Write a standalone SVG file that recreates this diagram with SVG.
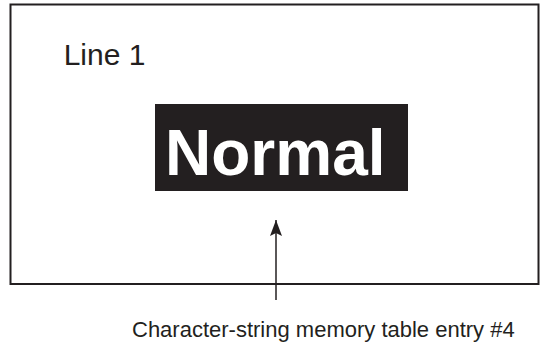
<svg xmlns="http://www.w3.org/2000/svg" width="540" height="343" viewBox="0 0 540 343">
<style>
.t{font-family:"Liberation Sans",Arial,sans-serif;fill:#231f20}
</style>
<defs>
<marker id="ah" markerUnits="userSpaceOnUse" markerWidth="16" markerHeight="12" refX="16" refY="6" orient="auto" viewBox="0 0 16 12">
<path d="M16,6 L0,0 L3,6 L0,12 Z" fill="#231f20"/>
</marker>
</defs>
<rect width="540" height="343" fill="#fff"/>
<g id="screen">
<rect x="10.5" y="4.5" width="528" height="279.5" fill="none" stroke="#231f20" stroke-width="2"/>
<text class="t" x="63.7" y="65" font-size="30">Line 1</text>
</g>
<g id="normal">
<rect x="155" y="104" width="253" height="87" fill="#231f20"/>
<text x="165" y="175" font-size="64" font-weight="bold" font-family="Liberation Sans,Arial,sans-serif" fill="#fff">Normal</text>
</g>
<g id="connectors">
<line x1="276" y1="300" x2="276" y2="220" stroke="#231f20" stroke-width="1.5" marker-end="url(#ah)"/>
</g>
<g id="label">
<text class="t" x="132" y="337" font-size="22">Character-string memory table entry #4</text>
</g>
</svg>
